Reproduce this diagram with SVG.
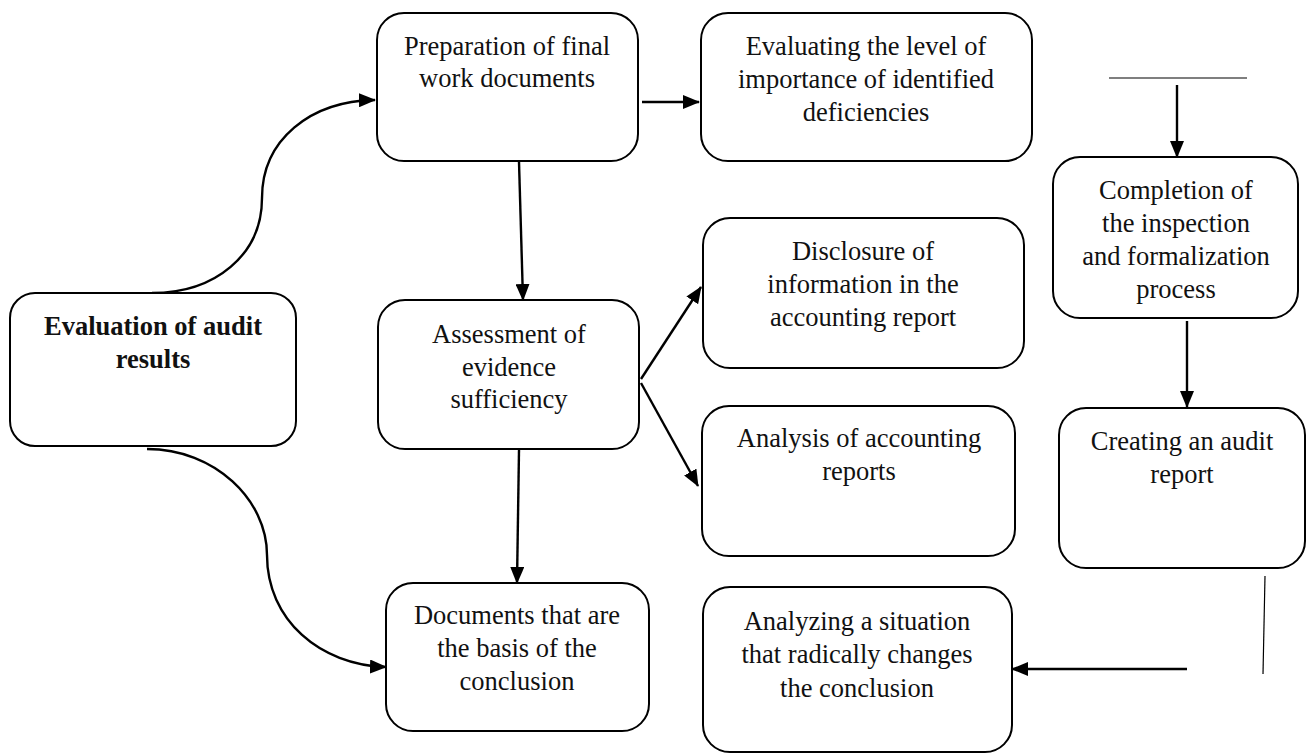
<svg xmlns="http://www.w3.org/2000/svg" width="1306" height="755" viewBox="0 0 1306 755">
<style>
.box{fill:#fff;stroke:#000;stroke-width:2}
.t{font-family:"Liberation Serif","Times New Roman",serif;font-size:26.5px;fill:#111;text-anchor:middle}
.b{font-weight:bold}
.c{fill:none;stroke:#000;stroke-width:2.4}
.thin{fill:none;stroke:#000;stroke-width:1.2}
</style>
<defs>
<marker id="ah" markerWidth="17" markerHeight="14" refX="16" refY="7" orient="auto" markerUnits="userSpaceOnUse">
<path d="M0,0 L17,7 L0,14 Z" fill="#000"/>
</marker>
</defs>
<rect width="1306" height="755" fill="#fff"/>
<g id="connectors">
<path class="c" d="M152,293 C215,293 262,255 262,198 C262,140 310,101 375,100" marker-end="url(#ah)"/>
<path class="c" d="M147,449 C215,449 267,500 267,555 C267,620 320,665 386,667" marker-end="url(#ah)"/>
<line class="c" x1="642" y1="102" x2="699" y2="102" marker-end="url(#ah)"/>
<line class="c" x1="519" y1="162" x2="523" y2="300" marker-end="url(#ah)"/>
<line class="c" x1="641" y1="379" x2="701" y2="287" marker-end="url(#ah)"/>
<line class="c" x1="641" y1="383" x2="698" y2="486" marker-end="url(#ah)"/>
<line class="c" x1="519" y1="450" x2="517" y2="583" marker-end="url(#ah)"/>
<line class="thin" x1="1109" y1="78" x2="1247" y2="78"/>
<line class="c" x1="1177" y1="85" x2="1177" y2="157" marker-end="url(#ah)"/>
<line class="c" x1="1187" y1="321" x2="1187" y2="407" marker-end="url(#ah)"/>
<line class="thin" x1="1265" y1="576" x2="1263" y2="674"/>
<line class="c" x1="1187" y1="669" x2="1012" y2="669" marker-end="url(#ah)"/>
</g>
<g id="n-eval">
<rect class="box" x="10" y="293" width="286" height="153" rx="25"/>
<text class="t b" x="153" y="335">Evaluation of audit</text>
<text class="t b" x="153" y="368">results</text>
</g>
<g id="n-prep">
<rect class="box" x="377" y="13" width="261" height="148" rx="27"/>
<text class="t" x="507" y="55">Preparation of final</text>
<text class="t" x="507" y="87">work documents</text>
</g>
<g id="n-level">
<rect class="box" x="701" y="13" width="331" height="148" rx="27"/>
<text class="t" x="866" y="55">Evaluating the level of</text>
<text class="t" x="866" y="88">importance of identified</text>
<text class="t" x="866" y="121">deficiencies</text>
</g>
<g id="n-disclosure">
<rect class="box" x="703" y="218" width="321" height="150" rx="27"/>
<text class="t" x="863" y="260">Disclosure of</text>
<text class="t" x="863" y="293">information in the</text>
<text class="t" x="863" y="326">accounting report</text>
</g>
<g id="n-assess">
<rect class="box" x="378" y="300" width="261" height="149" rx="27"/>
<text class="t" x="509" y="343">Assessment of</text>
<text class="t" x="509" y="376">evidence</text>
<text class="t" x="509" y="408">sufficiency</text>
</g>
<g id="n-analysis">
<rect class="box" x="702" y="406" width="313" height="150" rx="27"/>
<text class="t" x="859" y="447">Analysis of accounting</text>
<text class="t" x="859" y="480">reports</text>
</g>
<g id="n-documents">
<rect class="box" x="386" y="583" width="263" height="148" rx="27"/>
<text class="t" x="517" y="624">Documents that are</text>
<text class="t" x="517" y="657">the basis of the</text>
<text class="t" x="517" y="690">conclusion</text>
</g>
<g id="n-situation">
<rect class="box" x="703" y="587" width="309" height="165" rx="27"/>
<text class="t" x="857" y="630">Analyzing a situation</text>
<text class="t" x="857" y="663">that radically changes</text>
<text class="t" x="857" y="697">the conclusion</text>
</g>
<g id="n-completion">
<rect class="box" x="1053" y="157" width="245" height="161" rx="27"/>
<text class="t" x="1176" y="199">Completion of</text>
<text class="t" x="1176" y="232">the inspection</text>
<text class="t" x="1176" y="265">and formalization</text>
<text class="t" x="1176" y="298">process</text>
</g>
<g id="n-report">
<rect class="box" x="1059" y="408" width="246" height="160" rx="27"/>
<text class="t" x="1182" y="450">Creating an audit</text>
<text class="t" x="1182" y="483">report</text>
</g>
</svg>
